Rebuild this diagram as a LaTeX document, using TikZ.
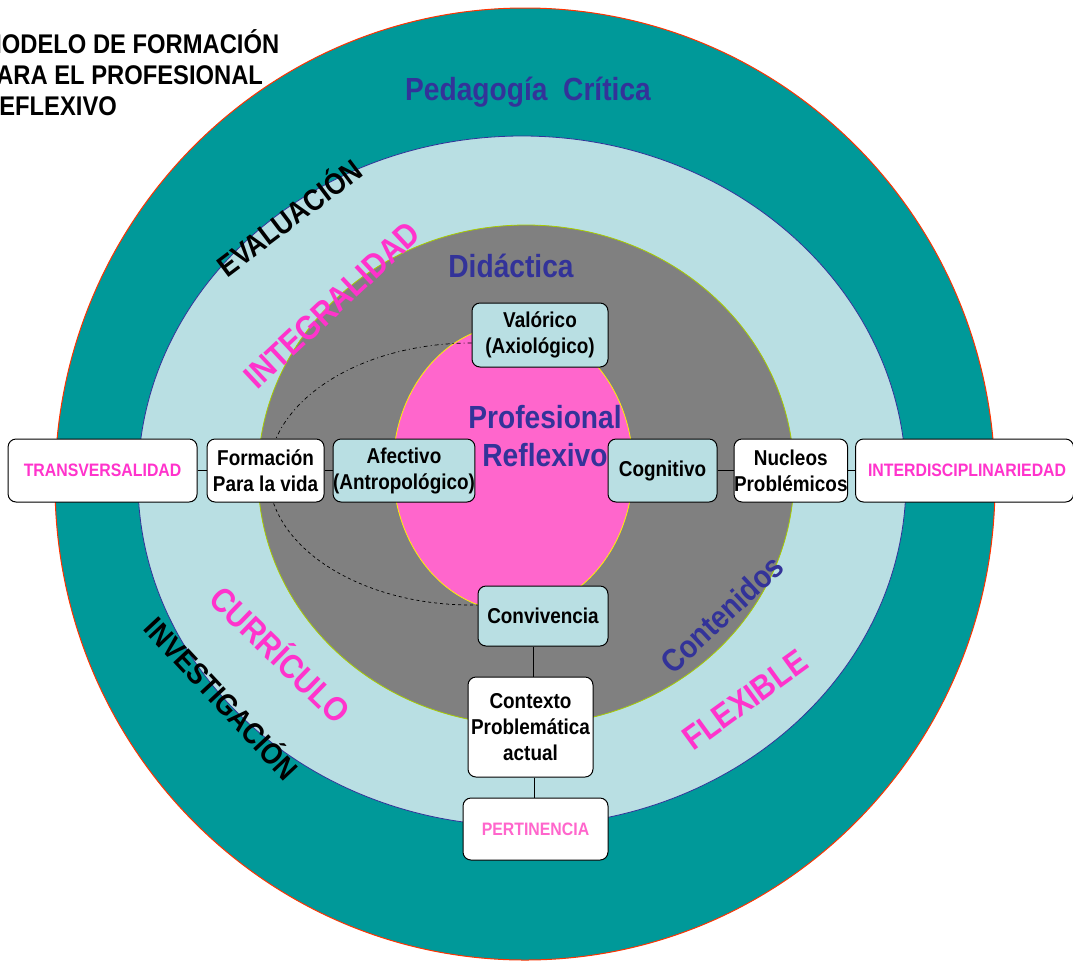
\documentclass[tikz,border=0pt]{standalone}
\usepackage{fontspec}
\setmainfont{Liberation Sans}[FakeStretch=0.88]
\usepackage{tikz}
\usetikzlibrary{positioning}

\definecolor{ringteal}{HTML}{009999}
\definecolor{ringblue}{HTML}{B9DFE3}
\definecolor{ringgray}{HTML}{808080}
\definecolor{ringedge}{HTML}{A8CC00}
\definecolor{corepink}{HTML}{FF66CC}
\definecolor{titleblue}{HTML}{333399}
\definecolor{labelpink}{HTML}{FF33CC}

\begin{document}
\begin{tikzpicture}[x=1pt, y=-1pt,
    box/.style={draw=black, line width=1pt, rounded corners=8pt, inner sep=0pt, align=center, font=\bfseries\fontsize{21.5}{26}\selectfont},
    softbox/.style={box, fill=ringblue},
    plainbox/.style={box, fill=white},
    tagbox/.style={plainbox, text=labelpink, font=\bfseries\fontsize{18}{22}\selectfont},
    link/.style={draw, line width=0.8pt},
    bluetitle/.style={text=titleblue, font=\bfseries\fontsize{32}{38}\selectfont, align=center, inner sep=0pt},
    ringword/.style={text=labelpink, font=\bfseries\fontsize{34}{40}\selectfont, inner sep=0pt},
    stageword/.style={font=\bfseries\fontsize{30}{34}\selectfont, inner sep=0pt}]
        \useasboundingbox (0,0) rectangle (1073,962);
        \clip (0,0) rectangle (1073,962);

        % Rings
        \filldraw [fill=ringteal, draw=red!80!yellow, line width=1pt] (525,484) ellipse [x radius=470pt, y radius=476pt];
        \filldraw [fill=ringblue, draw=titleblue, line width=0.8pt] (522,481) ellipse [x radius=384pt, y radius=345pt];
        \filldraw [fill=ringgray, draw=ringedge, line width=0.8pt] (526,475) ellipse [x radius=268pt, y radius=250pt];
        \filldraw [fill=corepink, draw=yellow, line width=0.8pt] (513,468) ellipse [x radius=120pt, y radius=143pt];

        % Title
        \node [anchor=north west, align=left, inner sep=0pt, font=\bfseries\fontsize{27}{31}\selectfont] (modelo) at (-18,29) {MODELO DE FORMACIÓN\\PARA EL PROFESIONAL\\REFLEXIVO};

        % Ring words
        \node [bluetitle] (pedagogia) at (528,92) {Pedagogía\ \ Crítica};
        \node [bluetitle] (didactica) at (511,266) {Didáctica};
        \node [bluetitle] (profesional) at (545,436) {Profesional\\Reflexivo};
        \node [bluetitle, rotate=43] (contenidos) at (722,614) {Contenidos};
        \node [stageword, rotate=37] (evaluacion) at (288,216) {EVALUACIÓN};
        \node [stageword, rotate=-47] (investigacion) at (223,697) {INVESTIGACIÓN};
        \node [ringword, rotate=43] (integralidad) at (332,305) {INTEGRALIDAD};
        \node [ringword, rotate=-44] (curriculo) at (282,653) {CURRÍCULO};
        \node [ringword, rotate=36] (flexible) at (745,700) {FLEXIBLE};

        % Dimensions
        \node [softbox, minimum width=136pt, minimum height=64pt] (valorico) at (540,335) {Valórico\\(Axiológico)};
        \node [softbox, minimum width=138pt, minimum height=63pt] (afectivo) at (404,470.5) {Afectivo\\(Antropológico)};
        \node [softbox, minimum width=109pt, minimum height=63pt] (cognitivo) at (662.5,470.5) {Cognitivo};
        \node [softbox, minimum width=130pt, minimum height=60pt] (convivencia) at (543,616) {Convivencia};

        % Loop from Valorico to Convivencia
        \draw [dash pattern=on 4pt off 3pt on 1pt off 3pt, line width=0.7pt] ([yshift=-8pt]valorico.west) arc [start angle=90, end angle=180, x radius=203pt, y radius=131pt] coordinate (loopleft);
        \draw [dashed, line width=0.7pt] (loopleft) arc [start angle=180, end angle=270, x radius=203pt, y radius=131pt] -- ([yshift=11pt]convivencia.west);

        % Left branch
        \node [plainbox, minimum width=117pt, minimum height=63pt, left=8pt of afectivo] (formacion) {Formación\\Para la vida};
        \node [tagbox, minimum width=189pt, minimum height=63pt, left=9pt of formacion] (transversalidad) {TRANSVERSALIDAD};

        % Right branch
        \node [plainbox, minimum width=109pt, minimum height=63pt, right=16pt of cognitivo] (nucleos) {Nucleos\\Problémicos};
        \node [tagbox, minimum width=218pt, minimum height=63pt, right=7pt of nucleos] (interdisciplinariedad) {\hspace{5pt}INTERDISCIPLINARIEDAD};

        % Bottom branch
        \node [plainbox, minimum width=125pt, minimum height=100pt] (contexto) at (530.5,727) {Contexto\\Problemática\\actual};
        \node [tagbox, text=corepink, minimum width=145pt, minimum height=62pt, below=20pt of contexto, xshift=5pt] (pertinencia) {PERTINENCIA};

        % Links
        \draw [link] (transversalidad) -- (formacion);
        \draw [link] (formacion) -- (afectivo);
        \draw [link] (cognitivo) -- (nucleos);
        \draw [link] (nucleos) -- (interdisciplinariedad);
        \draw [link] (contexto.north -| 533,0) -- (convivencia.south -| 533,0);
        \draw [link] (contexto.south -| 534,0) -- (pertinencia.north -| 534,0);
\end{tikzpicture}
\end{document}
